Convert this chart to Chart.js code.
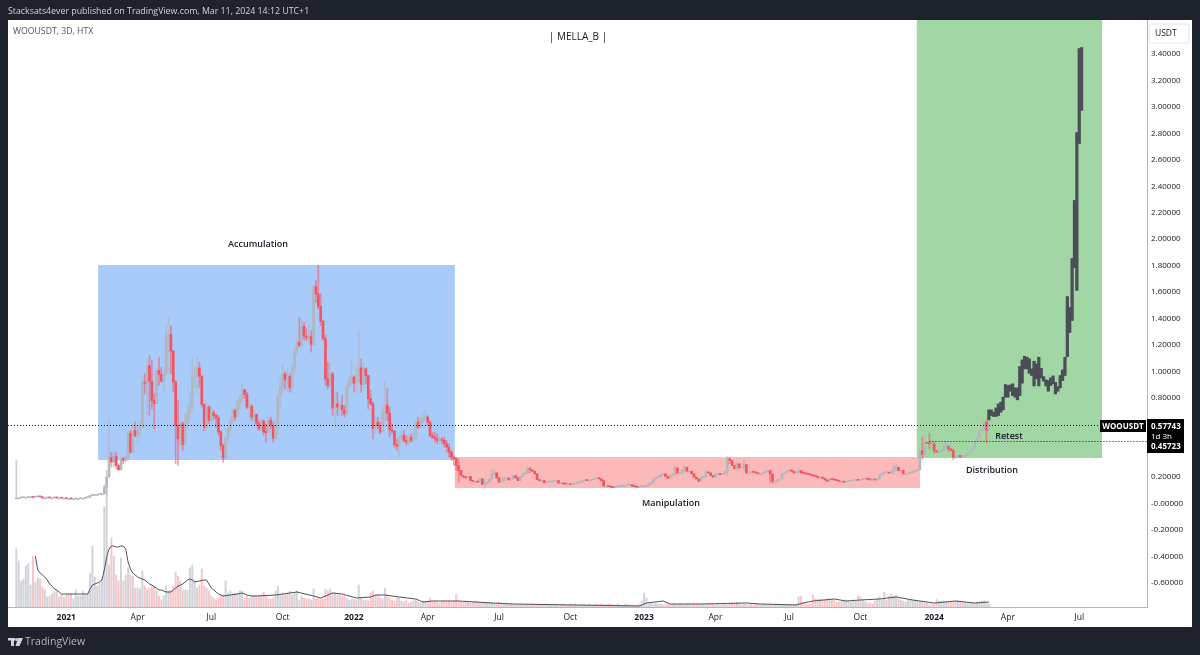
<!DOCTYPE html>
<html>
<head>
<meta charset="utf-8">
<title>WOOUSDT</title>
<script src="https://cdn.jsdelivr.net/npm/chart.js@4"></script>
<style>
html, body { margin: 0; padding: 0; background: #1e222d; }
canvas { display: block; }
</style>
</head>
<body>
<canvas id="grafico" width="1200" height="655"></canvas>
<script>
// closes of the 3D candles, open is taken from the close before
const closes = [
.031,.031,.034,.036,.036,.039,.039,.036,.039,.042,
.039,.031,.031,.034,.031,.031,.034,.031,.031,.029,
.029,.026,.026,.024,.024,.026,.026,.029,.029,.034,
.036,.049,.057,.057,.057,.062,.062,.112,.188,.339,
.302,.344,.276,.244,.327,.314,.339,.521,.377,.541,
.503,.546,.566,.907,.899,1.033,.914,.768,.743,.995,
.965,.914,.970,1.260,1.267,1.141,.907,.579,.478,.592,
.435,.592,.667,.718,.945,.957,1.015,.950,.738,.566,
.718,.617,.675,.655,.637,.529,.428,.334,.478,.554,
.617,.693,.642,.756,.781,.849,.813,.718,.723,.642,
.662,.597,.554,.612,.529,.526,.617,.579,.483,.592,
.806,.869,.970,.924,.950,.864,1.008,1.146,1.209,1.184,
1.330,1.255,1.242,1.252,1.192,1.630,1.575,1.479,1.368,1.235,
.932,.882,.970,.710,.743,.718,.730,.698,.667,.882,
.919,.945,.899,.957,1.015,.889,1.008,.957,.781,.743,
.554,.604,.579,.529,.667,.735,.672,.546,.536,.435,
.420,.478,.503,.466,.453,.491,.466,.491,.604,.566,
.617,.637,.642,.604,.503,.491,.478,.466,.471,.466,
.440,.415,.377,.339,.327,.276,.239,.200,.188,.183,
.193,.162,.157,.157,.150,.175,.132,.137,.150,.175,
.213,.220,.183,.150,.162,.183,.183,.167,.175,.200,
.183,.162,.193,.213,.218,.251,.243,.233,.213,.170,
.162,.162,.145,.152,.155,.155,.157,.162,.142,.145,
.137,.135,.135,.132,.137,.142,.147,.152,.160,.167,
.162,.162,.170,.178,.183,.175,.162,.120,.120,.117,
.112,.109,.117,.122,.122,.125,.125,.127,.132,.120,
.117,.112,.117,.120,.120,.125,.137,.150,.175,.188,
.193,.208,.213,.193,.180,.200,.213,.258,.220,.220,
.243,.263,.233,.233,.213,.188,.175,.157,.188,.193,
.228,.220,.200,.188,.213,.213,.208,.213,.233,.326,
.314,.276,.251,.289,.258,.263,.283,.220,.220,.231,
.225,.220,.213,.213,.220,.231,.238,.213,.157,.157,
.167,.175,.213,.220,.233,.243,.233,.220,.225,.238,
.220,.218,.213,.208,.205,.198,.195,.183,.188,.180,
.167,.157,.175,.170,.167,.162,.157,.157,.150,.155,
.157,.162,.167,.170,.165,.170,.173,.175,.173,.167,
.170,.167,.175,.205,.213,.223,.225,.218,.233,.258,
.263,.238,.238,.213,.213,.218,.223,.231,.238,.243,
.389,.359,.450,.445,.440,.440,.389,.377,.384,.395,
.420,.420,.402,.389,.339,.339,.352,.339,.344,.352,
.369,.384,.402,.453,.490,.541,.553,.604,.541,.579
];

// wicks of the busy part, first entry belongs to candle wickFirst
const wickFirst = 39;
const wickHighs = [
.630,.377,.377,.377,.289,.339,.339,.352,.541,.541,
.592,.604,.579,.617,.957,.970,1.083,1.108,1.071,.819,
1.008,1.096,1.020,.995,1.335,1.398,1.335,1.146,.920,.768,
.617,.604,.667,.743,.819,1.096,1.020,1.096,1.058,.957,
.743,.743,.730,.730,.693,.667,.655,.541,.440,.491,
.566,.642,.705,.705,.768,.806,.894,.856,.831,.768,
.738,.693,.667,.617,.629,.622,.592,.642,.642,.604,
.629,.819,.945,1.046,.982,1.008,.970,1.046,1.159,1.235,
1.398,1.386,1.361,1.310,1.335,1.298,1.638,1.676,1.789,1.575,
1.373,1.260,1.058,1.046,.982,.831,.831,.768,.806,.730,
.894,.957,1.083,.957,1.020,1.298,1.083,1.058,1.015,.957,
.844,.756,.642,.642,.604,.718,.919,.856,.718,.592,
.541,.478,.503,.541,.541,.503,.503,.516,.541,.617,
.642,.642,.667,.693,.655,.617,.529,.529,.516,.491,
.491,.491,.466,.440,.390,.352,.339,.327
];
const wickLows = [
.239,.264,.264,.251,.239,.244,.289,.302,.314,.370,
.440,.491,.428,.491,.554,.819,.655,.655,.705,.554,
.743,.882,.907,.831,.957,.970,.970,.831,.289,.276,
.415,.390,.491,.554,.617,.693,.869,.819,.869,.718,
.541,.554,.592,.617,.622,.566,.503,.390,.302,.327,
.453,.529,.592,.617,.655,.705,.756,.781,.705,.642,
.617,.579,.579,.541,.541,.503,.453,.521,.554,.453,
.478,.516,.718,.831,.856,.831,.831,.831,.970,1.108,
1.171,1.197,1.222,1.222,1.209,1.134,1.184,1.512,1.461,1.335,
1.222,.882,.856,.869,.655,.592,.655,.655,.655,.642,
.655,.856,.882,.831,.831,.907,.831,.869,.894,.705,
.730,.478,.516,.554,.516,.579,.617,.617,.491,.516,
.415,.390,.339,.453,.453,.428,.428,.453,.471,.478,
.554,.566,.592,.617,.579,.491,.478,.453,.440,.440,
.440,.415,.377,.339,.314,.276,.239,.150
];

// the few wicks that show outside that part
const spikeBars = [0,37,38,197,200,201,215,216,277,281,290,299,300,303,306,317,318,369,370,381,382,384,385,386,390,391,392,394,395,408,409];
const spikeHighs = [.314,.130,.240,.175,.238,.243,.268,.263,.276,.276,.238,.344,.339,.309,.319,.238,.180,.276,.289,.490,.503,.521,.465,.453,.457,.465,.427,.402,.360,.616,.591];
const spikeLows = [.031,.060,.050,.104,.175,.205,.225,.220,.200,.220,.205,.200,.290,.240,.240,.150,.140,.210,.230,.326,.340,.402,.400,.369,.384,.395,.380,.321,.334,.447,.541];

// black projected bars drawn after the last real candle
const projFirst = 409;
const projHighs = [.697,.697,.679,.712,.742,.755,.793,.889,.881,.886,.894,.863,.863,1.025,1.075,1.103,1.095,1.083,1.007,1.065,1.045,1.095,1.012,.949,.924,.919,.939,.954,.906,.873,.957,1.000,1.095,1.554,1.471,1.842,2.281,2.795,3.430,3.438];
const projLows = [.621,.654,.647,.647,.654,.679,.697,.793,.793,.838,.805,.793,.773,.805,.899,1.007,1.007,.974,.957,.878,.931,.878,.939,.914,.878,.838,.881,.894,.818,.838,.863,.919,.957,1.100,1.282,1.373,1.774,1.600,2.712,2.962];

const volumes = [
58,46,26,28,41,43,22,51,25,29,
28,20,17,10,11,13,15,17,10,13,
10,12,13,13,8,17,11,11,16,12,
13,33,61,30,21,24,27,100,130,42,
69,51,32,26,49,26,32,39,32,31,
19,19,18,36,21,18,19,21,21,17,
11,7,11,21,16,17,21,35,31,26,
17,17,17,39,42,27,19,22,38,21,
19,16,11,9,7,9,12,12,26,14,
16,14,14,14,16,16,9,11,9,12,
11,11,12,12,15,12,9,8,9,16,
21,12,14,12,14,16,12,14,16,7,
11,9,8,8,7,18,8,9,8,8,
18,16,18,14,14,12,12,11,11,9,
7,8,8,7,22,9,7,7,6,14,
16,12,12,9,8,19,12,9,7,6,
9,9,6,5,7,4,5,6,7,5,
4,6,5,6,9,5,6,5,4,5,
6,5,6,5,6,13,6,5,5,6,
5,4,5,6,5,4,5,4,5,4,
4,3,4,5,4,3,4,3,3,3,
3,2,3,3,2,3,2,3,2,2,
3,2,2,3,2,2,3,2,2,2,
3,2,2,3,2,3,2,2,3,2,
2,3,2,2,3,2,3,2,2,3,
3,2,2,3,2,2,3,3,2,2,
2,2,3,6,14,9,3,4,3,4,
3,3,2,3,3,2,3,3,2,3,
3,2,3,3,2,3,3,3,2,3,
2,3,3,3,2,3,2,3,3,2,
3,4,3,5,3,2,3,3,2,3,
2,3,3,2,3,3,2,3,2,3,
3,3,2,3,2,3,3,2,3,10,
11,5,3,3,3,12,8,8,8,7,
7,8,8,7,7,5,5,6,7,7,
6,5,7,6,11,10,7,5,4,4,
3,6,8,10,7,15,7,11,13,11,
12,8,7,6,5,7,7,7,7,6,
5,5,4,4,3,3,3,8,6,6,
6,5,5,5,5,6,6,6,5,5,
4,4,4,4,5,5,6,6,5,3
];

// moving average over the volume, only the points
const maBars = [8,9,10,11,12,13,14,15,16,17,18,19,20,24,28,30,31,32,33,34,35,36,37,38,39,40,41,42,43,44,45,46,47,48,49,50,51,52,53,54,55,56,57,58,59,60,61,62,63,65,66,67,68,69,70,71,72,73,74,75,77,79,80,81,82,83,84,85,86,87,90,93,95,97,99,101,109,118,125,128,133,137,143,149,151,155,158,161,168,171,175,186,193,200,209,262,265,272,275,288,307,313,328,331,335,344,349,355,363,370,377,386,395,403,409];
const maValues = [51,37,34,32,30,27,23,21,18,17,15,13,13,13,13,13,18,22,23,24,25,27,37,50,58,61,61,60,60,61,61,58,45,38,34,32,30,29,28,27,25,23,22,20,19,17,17,16,15,15,17,19,21,22,23,25,27,28,27,25,26,27,27,23,19,17,15,13,12,11,12,13,14,12,11,11,12,15,11,9,14,13,9,10,12,12,11,10,8,5,6,6,5,4,3,1,4,6,3,3,4,3,2,4,6,8,6,7,8,10,7,4,6,4,5];

// 0.6 and 0.4 sit behind the price labels in the picture
const yTicks = [3.4,3.2,3.0,2.8,2.6,2.4,2.2,2.0,1.8,1.6,1.4,1.2,1.0,.8,.2,0,-.2,-.4,-.6];

const tickBars = [21,51,82,112,142,173,203,233,264,294,325,355,386,417,447];
const tickLabels = ["2021","Apr","Jul","Oct","2022","Apr","Jul","Oct","2023","Apr","Jul","Oct","2024","Apr","Jul"];
const yearLabels = ["2021","2022","2023","2024"];

const ultimoPrecio = 0.57743;
const precioRetest = 0.45723;

// empty bars kept left and right of the series on the category axis
const barrasAntes = 3;
const totalBarras = 479;

const ROJO = "#f7525f";
const GRIS = "#b2b5be";
const NEGRO = "#4a4e57";

const etiquetas = Array.from({length: totalBarras}, (_, n) => n);

function filaVacia(){
    return new Array(totalBarras).fill(null);
}

const cuerpos = filaVacia();
const mechas = filaVacia();
const proyectadas = filaVacia();
const volumen = filaVacia();
const media = filaVacia();
const coloresCuerpo = filaVacia();
const coloresMecha = filaVacia();
const coloresVolumen = filaVacia();

closes.forEach(function(close, i){
    const open = i === 0 ? close : closes[i - 1];
    const n = i + barrasAntes;
    const abajo = close < open;
    let alto = Math.max(open, close);
    let bajo = Math.min(open, close);

    cuerpos[n] = [bajo, alto];

    const enTramo = i - wickFirst;
    const spike = spikeBars.indexOf(i);
    if(enTramo >= 0 && enTramo < wickHighs.length){
        alto = wickHighs[enTramo];
        bajo = wickLows[enTramo];
    } else if(spike >= 0){
        alto = spikeHighs[spike];
        bajo = spikeLows[spike];
    }
    mechas[n] = [bajo, alto];

    coloresCuerpo[n] = abajo ? ROJO : "rgba(178,181,190,0.95)";
    coloresMecha[n] = abajo ? "rgba(247,82,95,0.55)" : "rgba(178,181,190,0.65)";
    coloresVolumen[n] = abajo ? "rgba(247,82,95,0.34)" : "rgba(178,181,190,0.6)";
    volumen[n] = volumes[i];
});

projHighs.forEach(function(alto, i){
    proyectadas[projFirst + i + barrasAntes] = [projLows[i], alto];
});

maBars.forEach(function(barra, i){
    media[barra + barrasAntes] = maValues[i];
});

function texto(ctx, cadena, x, y, fuente, color, alinear){
    ctx.font = fuente;
    ctx.fillStyle = color;
    ctx.textAlign = alinear || "left";
    ctx.textBaseline = "middle";
    ctx.fillText(cadena, x, y);
}

const pluginFondo = {
    id: "fondo",
    beforeDraw(chart){
        const ctx = chart.ctx;
        ctx.save();
        ctx.fillStyle = "#1e222d";
        ctx.fillRect(0, 0, 1200, 655);
        ctx.fillStyle = "#ffffff";
        ctx.fillRect(8, 20, 1184, 607);
        ctx.restore();
    },
    beforeDatasetsDraw(chart){
        const ctx = chart.ctx;
        const x = chart.scales.x;
        const y = chart.scales.y;
        const zonas = [
            {desde: 34.4, hasta: 184.4, alto: 1.793, bajo: 0.318, color: "#a9cbf9"},
            {desde: 184.4, hasta: 380, alto: 0.34, bajo: 0.106, color: "#fbb9b9"},
            {desde: 378.7, hasta: 456.6, alto: 3.646, bajo: 0.333, color: "#a2d7a5"}
        ];
        ctx.save();
        zonas.forEach(function(z){
            const x0 = x.getPixelForValue(z.desde + barrasAntes);
            const x1 = x.getPixelForValue(z.hasta + barrasAntes);
            const y0 = y.getPixelForValue(z.alto);
            const y1 = y.getPixelForValue(z.bajo);
            ctx.fillStyle = z.color;
            ctx.fillRect(x0, y0, x1 - x0, y1 - y0);
        });
        ctx.restore();
    },
    afterDraw(chart){
        const ctx = chart.ctx;
        const x = chart.scales.x;
        const y = chart.scales.y;
        const area = chart.chartArea;
        ctx.save();

        // dotted price lines
        ctx.strokeStyle = "#131722";
        ctx.lineWidth = 1;
        ctx.setLineDash([1, 2]);
        const yUltimo = Math.round(y.getPixelForValue(ultimoPrecio) - 0.2) + 0.5;
        const yRetest = Math.round(y.getPixelForValue(precioRetest) - 0.2) + 0.5;
        ctx.beginPath();
        ctx.moveTo(area.left, yUltimo);
        ctx.lineTo(area.right, yUltimo);
        ctx.moveTo(x.getPixelForValue(384 + barrasAntes), yRetest);
        ctx.lineTo(area.right, yRetest);
        ctx.stroke();
        ctx.setLineDash([]);

        // drawing tool labels
        const cuerpoTexto = "600 9px 'Open Sans'";
        texto(ctx, "Accumulation", 258, 244, cuerpoTexto, "#131722", "center");
        texto(ctx, "Manipulation", 671, 503, cuerpoTexto, "#131722", "center");
        texto(ctx, "Distribution", 992, 470, cuerpoTexto, "#131722", "center");
        texto(ctx, "Retest", 1009, 436, cuerpoTexto, "#131722", "center");
        texto(ctx, "| MELLA_B |", 578, 37, "10px 'Open Sans'", "#131722", "center");

        // price labels on the axis
        ctx.fillStyle = "#000000";
        ctx.fillRect(1100, 420, 46, 12);
        ctx.fillRect(1147, 419, 37, 34);
        texto(ctx, "WOOUSDT", 1123, 426.5, "700 8px 'Open Sans'", "#ffffff", "center");
        texto(ctx, ultimoPrecio.toFixed(5), 1151, 426.5, "700 8px 'Open Sans'", "#ffffff");
        texto(ctx, "1d 3h", 1151, 436.5, "8px 'Open Sans'", "#ffffff");
        texto(ctx, precioRetest.toFixed(5), 1151, 447, "700 8px 'Open Sans'", "#ffffff");

        // currency box
        ctx.fillStyle = "#ffffff";
        ctx.strokeStyle = "#e0e3eb";
        ctx.beginPath();
        ctx.roundRect(1149, 24, 40, 19, 2);
        ctx.fill();
        ctx.stroke();
        texto(ctx, "USDT", 1155, 34, "8.5px 'Open Sans'", "#131722");

        // header and footer
        texto(ctx, "Stacksats4ever published on TradingView.com, Mar 11, 2024 14:12 UTC+1", 8, 11, "8.8px 'Open Sans'", "#d1d4dc");
        texto(ctx, "WOOUSDT, 3D, HTX", 13, 32, "8.7px 'Open Sans'", "#50535e");

        ctx.fillStyle = "#d1d4dc";
        ctx.fillRect(8, 638, 7, 2.5);
        ctx.fillRect(11, 638, 3, 8);
        ctx.beginPath();
        ctx.arc(16.5, 639.5, 1.5, 0, Math.PI * 2);
        ctx.fill();
        ctx.beginPath();
        ctx.moveTo(18, 638);
        ctx.lineTo(23, 638);
        ctx.lineTo(19.5, 646);
        ctx.lineTo(15.5, 646);
        ctx.closePath();
        ctx.fill();
        texto(ctx, "TradingView", 25, 642, "10.5px 'Open Sans'", "#b2b5be");

        ctx.restore();
    }
};

new Chart(document.getElementById("grafico"), {
    data: {
        labels: etiquetas,
        datasets: [
            {
                type: "line",
                data: media,
                yAxisID: "vol",
                borderColor: "#50535e",
                borderWidth: 1,
                pointRadius: 0,
                spanGaps: true,
                tension: 0
            },
            {
                type: "bar",
                data: cuerpos,
                backgroundColor: coloresCuerpo,
                barThickness: 2,
                minBarLength: 1,
                grouped: false
            },
            {
                type: "bar",
                data: mechas,
                backgroundColor: coloresMecha,
                barThickness: 1,
                grouped: false
            },
            {
                type: "bar",
                data: proyectadas,
                backgroundColor: NEGRO,
                barThickness: 2.6,
                grouped: false
            },
            {
                type: "bar",
                data: volumen,
                yAxisID: "vol",
                backgroundColor: coloresVolumen,
                barThickness: 1.3,
                grouped: false
            }
        ]
    },
    options: {
        responsive: false,
        animation: false,
        devicePixelRatio: 1,
        layout: {
            padding: {left: 8, right: 8, top: 20, bottom: 28}
        },
        plugins: {
            legend: {display: false},
            tooltip: {enabled: false}
        },
        scales: {
            x: {
                type: "category",
                grid: {display: false, drawTicks: false},
                border: {color: GRIS},
                afterFit: function(scale){
                    scale.height = 20;
                },
                ticks: {
                    autoSkip: false,
                    maxRotation: 0,
                    minRotation: 0,
                    padding: 5,
                    color: "#131722",
                    font: function(contexto){
                        const esAnio = contexto.tick && yearLabels.includes(contexto.tick.label);
                        return {family: "'Open Sans'", size: 8.5, weight: esAnio ? "700" : "400"};
                    },
                    callback: function(valor, indice){
                        const t = tickBars.indexOf(indice - barrasAntes);
                        return t < 0 ? "" : tickLabels[t];
                    }
                }
            },
            y: {
                position: "right",
                min: -0.794,
                max: 3.646,
                grid: {display: false, drawTicks: false},
                border: {color: GRIS},
                afterBuildTicks: function(scale){
                    scale.ticks = yTicks.map(function(v){ return {value: v}; });
                },
                afterFit: function(scale){
                    scale.width = 45;
                },
                ticks: {
                    autoSkip: false,
                    padding: 4,
                    labelOffset: 1.5,
                    color: "#131722",
                    font: {family: "'Open Sans'", size: 8},
                    callback: function(valor){
                        return valor === 0 ? "-0.00000" : valor.toFixed(5);
                    }
                }
            },
            vol: {
                display: false,
                min: 0,
                max: 587
            }
        }
    },
    plugins: [pluginFondo]
});
</script>
</body>
</html>
